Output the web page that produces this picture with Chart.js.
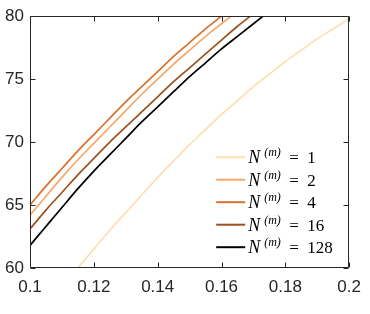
<!DOCTYPE html>
<html>
<head>
<meta charset="utf-8">
<script src="https://cdn.jsdelivr.net/npm/chart.js@4"></script>
<style>
  html, body { margin: 0; padding: 0; background: #fff; }
</style>
</head>
<body>
<canvas id="chart" width="370" height="314"></canvas>
<script>
// x positions shared by every curve
const xValues = [0.1, 0.105, 0.11, 0.115, 0.12, 0.125, 0.13, 0.135, 0.14, 0.145, 0.15,
                 0.155, 0.16, 0.165, 0.17, 0.175, 0.18, 0.185, 0.19, 0.195, 0.2];

const seriesNames = ['1', '2', '4', '16', '128'];
const seriesColors = ['#fddfb2', '#f7a868', '#d8712c', '#9e511d', '#000000'];

const n1   = [null, null, 58.5, 60.0, 61.5, 63.0, 64.4, 65.8, 67.2, 68.5, 69.8,
              71.0, 72.2, 73.3, 74.4, 75.4, 76.4, 77.3, 78.2, 79.0, 79.8];
const n2   = [64.2, 65.7, 67.2, 68.6, 69.9, 71.2, 72.5, 73.8, 75.0, 76.2, 77.3,
              78.4, 79.4, 80.4, null, null, null, null, null, null, null];
const n4   = [65.0, 66.5, 67.9, 69.3, 70.6, 71.9, 73.2, 74.4, 75.6, 76.8, 77.9,
              79.0, 80.0, 81.0, null, null, null, null, null, null, null];
const n16  = [63.1, 64.6, 66.0, 67.4, 68.7, 70.0, 71.2, 72.4, 73.6, 74.8, 75.9,
              77.0, 78.1, 79.2, 80.2, null, null, null, null, null, null];
const n128 = [61.8, 63.3, 64.8, 66.3, 67.7, 69.0, 70.3, 71.6, 72.8, 74.0, 75.2,
              76.3, 77.4, 78.4, 79.4, 80.4, null, null, null, null, null];

const xTickValues = [0.1, 0.12, 0.14, 0.16, 0.18, 0.2];
const xTickLabels = ['0.1', '0.12', '0.14', '0.16', '0.18', '0.2'];
const yTickValues = [60, 65, 70, 75, 80];
const yTickLabels = ['60', '65', '70', '75', '80'];

const allSeries = [n1, n2, n4, n16, n128];
const axisColor = '#262626';

//box, inward ticks and the legend drawn on top like matlab
const boxPlugin = {
  id: 'box',
  afterDraw(chart) {
    const ctx = chart.ctx;
    const a = chart.chartArea;
    const xs = chart.scales.x, ys = chart.scales.y;
    const L = Math.round(a.left) + 0.5, R = Math.round(a.right) - 0.5;
    const T = Math.round(a.top) + 0.5, B = Math.round(a.bottom) - 0.5;
    ctx.save();
    ctx.strokeStyle = axisColor;
    ctx.lineWidth = 1;
    ctx.beginPath();
    ctx.rect(L, T, R - L, B - T);
    xTickValues.forEach(v => {
      const px = Math.round(xs.getPixelForValue(v)) + 0.5;
      ctx.moveTo(px, B); ctx.lineTo(px, B - 5);
      ctx.moveTo(px, T); ctx.lineTo(px, T + 5);
    });
    yTickValues.forEach(v => {
      const py = Math.round(ys.getPixelForValue(v)) + 0.5;
      ctx.moveTo(L, py); ctx.lineTo(L + 5, py);
      ctx.moveTo(R, py); ctx.lineTo(R - 5, py);
    });
    ctx.stroke();

    // legend
    const x0 = a.right - 133;
    let y = a.top + 141;
    chart.data.datasets.forEach((ds, i) => {
      ctx.strokeStyle = ds.borderColor;
      ctx.lineWidth = 2;
      ctx.beginPath();
      ctx.moveTo(x0, y); ctx.lineTo(x0 + 29, y);
      ctx.stroke();
      ctx.fillStyle = '#000';
      ctx.textBaseline = 'alphabetic';
      ctx.textAlign = 'left';
      ctx.font = 'italic 18px "Liberation Serif"';
      ctx.fillText('N', x0 + 32, y + 6);
      ctx.font = 'italic 12px "Liberation Serif"';
      ctx.fillText('(m)', x0 + 48, y - 1);
      ctx.font = '17px "Liberation Serif"';
      ctx.fillText('=', x0 + 73, y + 6);
      ctx.fillText(seriesNames[i], x0 + 91, y + 6);
      y += 22.5;
    });
    ctx.restore();
  }
};

new Chart(document.getElementById('chart'), {
  type: 'line',
  data: {
    labels: xValues,
    datasets: allSeries.map((s, i) => ({
      label: 'N(m) = ' + seriesNames[i],
      data: s.map((v, j) => ({ x: xValues[j], y: v })),
      borderColor: seriesColors[i],
      borderWidth: 1.7,
      pointRadius: 0,
      cubicInterpolationMode: 'monotone',
      fill: false,
      clip: 0
    }))
  },
  options: {
    responsive: false,
    animation: false,
    devicePixelRatio: 1,
    layout: { padding: { top: 15, right: 18, left: 0, bottom: 0 } },
    plugins: {
      legend: { display: false },
      tooltip: { enabled: false }
    },
    scales: {
      x: {
        type: 'linear',
        min: 0.1,
        max: 0.2,
        grid: { display: false, drawTicks: false },
        border: { display: false },
        afterBuildTicks: s => { s.ticks = xTickValues.map(v => ({ value: v })); },
        afterFit: s => { s.height = 46; },
        ticks: {
          padding: 9,
          color: axisColor,
          font: { family: 'Liberation Sans', size: 17 },
          maxRotation: 0,
          callback: (v, i) => xTickLabels[i]
        }
      },
      y: {
        min: 60,
        max: 80,
        grid: { display: false, drawTicks: false },
        border: { display: false },
        afterBuildTicks: s => { s.ticks = yTickValues.map(v => ({ value: v })); },
        afterFit: s => { s.width = 30; },
        ticks: {
          padding: 6,
          color: axisColor,
          font: { family: 'Liberation Sans', size: 17 },
          callback: (v, i) => yTickLabels[i]
        }
      }
    }
  },
  plugins: [boxPlugin]
});
</script>
</body>
</html>
